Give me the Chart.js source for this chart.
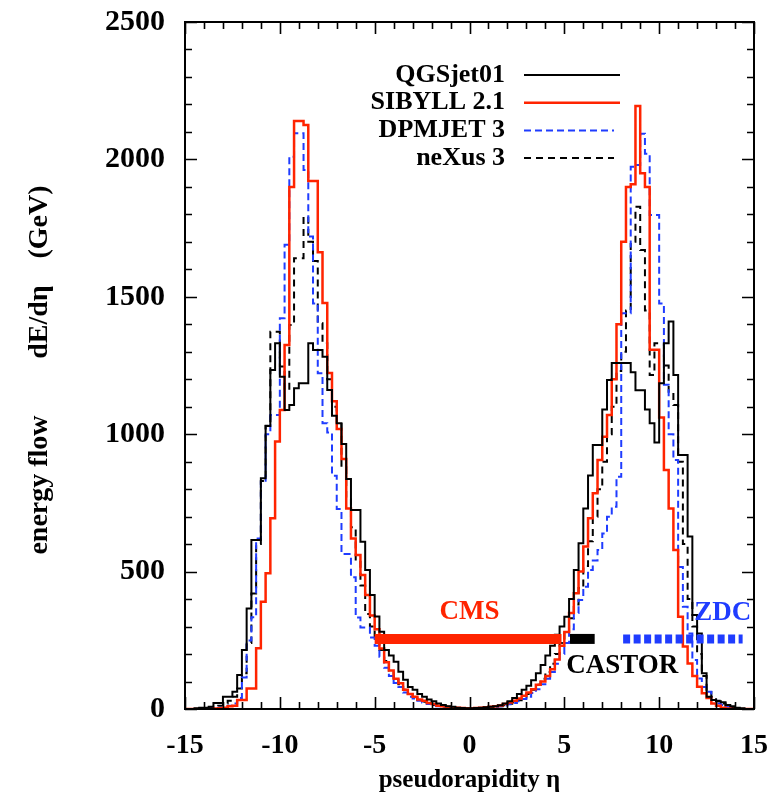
<!DOCTYPE html>
<html>
<head>
<meta charset="utf-8">
<script src="https://cdn.jsdelivr.net/npm/chart.js@4.4.1/dist/chart.umd.min.js"></script>
<style>
  html, body { margin: 0; padding: 0; background: #ffffff; }
  #grafico { display: block; }
</style>
</head>
<body>
<canvas id="grafico" width="784" height="806"></canvas>
<script>
// histogramas en bins de 0.25 en eta, desde -15 hasta 15 (120 bins)
const etaMin = -15;
const etaMax = 15;
const anchoBin = 0.25;

const qgsjet01 = [
    0, 0, 3, 5, 5, 8, 22, 22, 45, 45, 63, 124, 215, 366, 615, 615, 840, 1030, 1234, 1331,
    1209, 1088, 1106, 1167, 1185, 1185, 1331, 1306, 1306, 1282, 1161, 1067, 1040, 964, 837, 724, 724, 609, 506, 415,
    337, 281, 215, 195, 172, 136, 106, 80, 70, 55, 45, 35, 28, 20, 15, 10, 8, 5, 4, 3,
    3, 4, 5, 6, 8, 10, 14, 20, 28, 40, 55, 70, 85, 105, 130, 160, 195, 230, 270, 300,
    336, 400, 506, 603, 730, 850, 961, 961, 1090, 1197, 1259, 1259, 1259, 1259, 1225, 1160, 1160, 1090, 1040, 970,
    1185, 1331, 1410, 1215, 924, 924, 628, 342, 275, 130, 45, 33, 28, 25, 15, 10, 5, 3, 0, 0
];

const sibyll21 = [
    0, 0, 0, 0, 0, 0, 2, 3, 5, 10, 12, 33, 33, 75, 75, 221, 390, 494, 694, 973,
    1088, 1325, 1900, 2140, 2140, 2125, 1921, 1921, 1662, 1477, 1223, 1120, 1019, 910, 730, 620, 560, 488, 415, 340,
    290, 220, 170, 140, 110, 94, 70, 55, 45, 35, 30, 22, 18, 12, 10, 8, 6, 5, 4, 3,
    3, 4, 5, 6, 8, 10, 13, 18, 24, 30, 38, 48, 60, 72, 88, 100, 120, 145, 180, 230,
    280, 349, 421, 500, 591, 694, 785, 906, 991, 1070, 1200, 1400, 1700, 1900, 1910, 2194, 1950, 1900, 1307, 1307,
    1061, 870, 730, 579, 336, 227, 166, 120, 81, 57, 40, 20, 12, 5, 2, 0, 0, 0, 0, 0
];

const dpmjet3 = [
    0, 0, 0, 0, 0, 2, 3, 5, 8, 12, 20, 40, 115, 249, 334, 620, 831, 1000, 1070, 1070,
    1422, 1689, 2010, 2095, 2095, 1961, 1719, 1476, 1222, 1040, 1006, 849, 728, 564, 564, 479, 333, 297, 297, 260,
    230, 190, 150, 120, 95, 80, 60, 45, 38, 30, 24, 18, 14, 10, 8, 6, 5, 4, 3, 3,
    3, 3, 4, 5, 6, 8, 10, 13, 17, 22, 28, 36, 45, 58, 72, 90, 110, 135, 165, 200,
    240, 290, 349, 397, 445, 506, 540, 579, 639, 700, 736, 845, 1440, 1440, 1973, 1980, 2093, 2021, 1798, 1798,
    1476, 1180, 1000, 906, 517, 372, 275, 178, 111, 80, 63, 33, 20, 15, 8, 5, 0, 0, 0, 0
];

const nexus3 = [
    0, 0, 0, 2, 3, 5, 8, 12, 20, 30, 45, 75, 130, 240, 420, 600, 830, 1031, 1373, 1373,
    1246, 1161, 1397, 1640, 1640, 1791, 1700, 1630, 1404, 1331, 1200, 1100, 1037, 880, 770, 661, 540, 449, 346, 300,
    260, 215, 175, 140, 112, 90, 70, 55, 42, 33, 26, 20, 15, 11, 9, 7, 5, 4, 3, 3,
    3, 3, 4, 5, 6, 8, 10, 14, 19, 25, 32, 42, 55, 70, 88, 110, 135, 165, 200, 240,
    280, 330, 380, 440, 520, 610, 700, 800, 900, 1000, 1100, 1230, 1300, 1450, 1700, 1828, 1670, 1450, 1215, 1331,
    1331, 1250, 1150, 1106, 900, 600, 400, 300, 200, 120, 70, 45, 30, 20, 12, 6, 3, 0, 0, 0
];

const modelos = ['QGSjet01', 'SIBYLL 2.1', 'DPMJET 3', 'neXus 3'];

// rangos de los detectores (eta) y altura a la que se dibujan
const detectores = ['CMS', 'CASTOR', 'ZDC'];
const detectorDesde = [-5, 5.3, 8.1];
const detectorHasta = [4.85, 6.6, 14.4];
const detectorNivel = [255, 255, 255];

const ticksX = [-15, -10, -5, 0, 5, 10, 15];
const ticksY = [0, 500, 1000, 1500, 2000, 2500];

const fuente = '"Liberation Serif", "DejaVu Serif", serif';
const rojo = '#ff2400';
const azul = '#1f3cff';

// estilo de cada modelo (linea del histograma y de la leyenda)
const estilos = [
    { color: '#000000', ancho: 2, guion: [] },
    { color: rojo, ancho: 2.5, guion: [] },
    { color: azul, ancho: 2, guion: [7, 4] },
    { color: '#000000', ancho: 2, guion: [7, 5] },
];
const estilosDetector = [
    { color: rojo, ancho: 10, guion: [] },
    { color: '#000000', ancho: 10, guion: [] },
    { color: azul, ancho: 9, guion: [7, 3.5] },
];

function PuntosHistograma(valores) {
    let puntos = [];
    for (let i = 0; i < valores.length; i++) {
        puntos.push({ x: etaMin + i * anchoBin, y: valores[i] });
    }
    // cierre del ultimo bin
    puntos.push({ x: etaMax, y: valores[valores.length - 1] });
    return puntos;
}

let seriesModelos = [qgsjet01, sibyll21, dpmjet3, nexus3];
let datasets = [];

for (let i = 0; i < detectores.length; i++) {
    datasets.push({
        label: detectores[i],
        data: [{ x: detectorDesde[i], y: detectorNivel[i] }, { x: detectorHasta[i], y: detectorNivel[i] }],
        borderColor: estilosDetector[i].color,
        borderWidth: estilosDetector[i].ancho,
        borderDash: estilosDetector[i].guion,
        borderCapStyle: 'butt',
        pointRadius: 0,
        fill: false,
        order: 1,
    });
}

for (let i = 0; i < modelos.length; i++) {
    datasets.push({
        label: modelos[i],
        data: PuntosHistograma(seriesModelos[i]),
        borderColor: estilos[i].color,
        borderWidth: estilos[i].ancho,
        borderDash: estilos[i].guion,
        stepped: true,
        pointRadius: 0,
        fill: false,
        order: 2 + i,
    });
}

// marco, ticks hacia adentro, leyenda, etiquetas de detectores y titulo del eje y
const pluginDecoracion = {
    id: 'decoracion',
    afterDatasetsDraw(chart) {
        const ctx = chart.ctx;
        const area = chart.chartArea;
        const escalaX = chart.scales.x;
        const escalaY = chart.scales.y;

        ctx.save();
        ctx.strokeStyle = '#000';
        ctx.lineWidth = 2;
        ctx.setLineDash([]);
        ctx.strokeRect(area.left, area.top, area.right - area.left, area.bottom - area.top);

        ctx.lineWidth = 1.6;
        ctx.beginPath();
        for (let v = etaMin; v <= etaMax; v += 1) {
            let px = Math.round(escalaX.getPixelForValue(v)) + 0.5;
            let largo = (v % 5 === 0) ? 12 : 7;
            ctx.moveTo(px, area.bottom);
            ctx.lineTo(px, area.bottom - largo);
            ctx.moveTo(px, area.top);
            ctx.lineTo(px, area.top + largo);
        }
        for (let v = 0; v <= 2500; v += 100) {
            let py = Math.round(escalaY.getPixelForValue(v)) + 0.5;
            let largo = (v % 500 === 0) ? 12 : 7;
            ctx.moveTo(area.left, py);
            ctx.lineTo(area.left + largo, py);
            ctx.moveTo(area.right, py);
            ctx.lineTo(area.right - largo, py);
        }
        ctx.stroke();

        // leyenda
        ctx.font = 'bold 26px ' + fuente;
        ctx.textAlign = 'right';
        ctx.textBaseline = 'middle';
        for (let i = 0; i < modelos.length; i++) {
            let y = 75 + i * 27.7;
            ctx.fillStyle = '#000';
            ctx.fillText(modelos[i], 505, y);
            ctx.strokeStyle = estilos[i].color;
            ctx.lineWidth = estilos[i].ancho;
            ctx.setLineDash(estilos[i].guion);
            ctx.beginPath();
            ctx.moveTo(524, y);
            ctx.lineTo(estilos[i].guion.length ? 614 : 620, y);
            ctx.stroke();
        }
        ctx.setLineDash([]);

        // nombres de los detectores
        ctx.font = 'bold 27px ' + fuente;
        ctx.textAlign = 'center';
        let nivel = escalaY.getPixelForValue(detectorNivel[0]);
        ctx.fillStyle = rojo;
        ctx.fillText(detectores[0], escalaX.getPixelForValue(0), nivel - 27);
        ctx.fillStyle = '#000';
        ctx.fillText(detectores[1], escalaX.getPixelForValue(8.05), nivel + 27);
        ctx.fillStyle = azul;
        ctx.fillText(detectores[2], escalaX.getPixelForValue(13.35), nivel - 26);

        // titulo del eje y en tres partes
        ctx.fillStyle = '#000';
        ctx.font = 'bold 28px ' + fuente;
        ctx.translate(40, 0);
        ctx.rotate(-Math.PI / 2);
        ctx.fillText('energy flow', -485, 0);
        ctx.fillText('dE/d\u03b7', -322, 0);
        ctx.fillText('(GeV)', -222, 0);
        ctx.restore();
    }
};

let ctxGrafico = document.getElementById('grafico');
let grafico = new Chart(ctxGrafico, {
    type: 'line',
    data: { datasets: datasets },
    options: {
        responsive: false,
        animation: false,
        devicePixelRatio: 1,
        layout: { padding: { top: 22, right: 30, left: 0, bottom: 0 } },
        plugins: {
            legend: { display: false },
            tooltip: { enabled: false },
        },
        scales: {
            x: {
                type: 'linear',
                min: etaMin,
                max: etaMax,
                grid: { display: false, drawTicks: false },
                border: { display: false },
                afterBuildTicks: function (escala) {
                    escala.ticks = ticksX.map(v => ({ value: v }));
                },
                ticks: {
                    color: '#000',
                    padding: 20,
                    maxRotation: 0,
                    callback: function (valor) { return String(valor); },
                    font: { family: fuente, size: 28, weight: 'bold' },
                },
                title: {
                    display: true,
                    text: 'pseudorapidity \u03b7',
                    color: '#000',
                    font: { family: fuente, size: 25, weight: 'bold' },
                    padding: { top: 0, bottom: 10 },
                },
                afterFit: function (escala) {
                    escala.height = 97;
                    escala.paddingLeft = 0;
                    escala.paddingRight = 0;
                },
            },
            y: {
                min: 0,
                max: 2500,
                grid: { display: false, drawTicks: false },
                border: { display: false },
                afterBuildTicks: function (escala) {
                    escala.ticks = ticksY.map(v => ({ value: v }));
                },
                ticks: {
                    color: '#000',
                    padding: 20,
                    callback: function (valor) { return String(valor); },
                    font: { family: fuente, size: 30, weight: 'bold' },
                },
                afterFit: function (escala) {
                    escala.width = 185;
                    escala.paddingTop = 0;
                    escala.paddingBottom = 0;
                },
            },
        },
    },
    plugins: [pluginDecoracion],
});
</script>
</body>
</html>
